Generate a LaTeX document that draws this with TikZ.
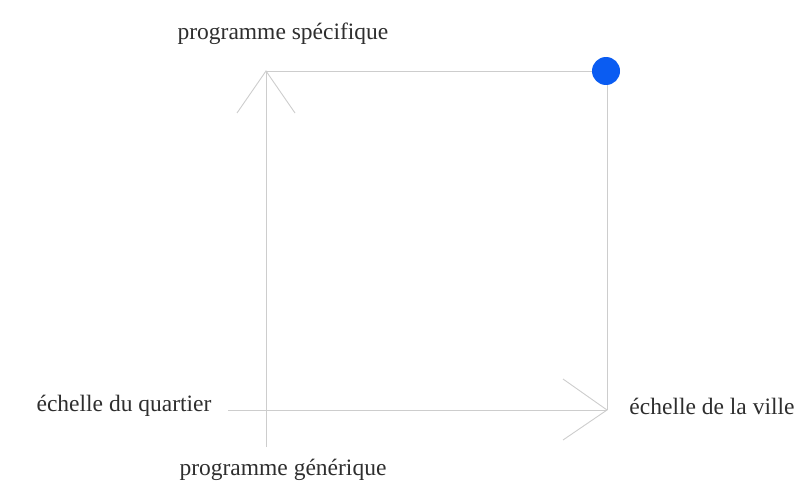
\documentclass[tikz,border=0pt]{standalone}
\usepackage{fontspec}
\setmainfont{Liberation Serif}
\definecolor{axisgray}{HTML}{CDCDCD}
\definecolor{textgray}{HTML}{2E2E2E}
\definecolor{dotblue}{HTML}{0A5CF2}
\begin{document}
\begin{tikzpicture}[x=1pt,y=-1pt,
  axis/.style={draw=axisgray,line width=0.9pt},
  lbl/.style={text=textgray,font=\fontsize{23.5}{26}\selectfont,inner sep=0pt}]
\useasboundingbox (0,0) rectangle (805,495);
\coordinate (vb) at (266,447);
\coordinate (vt) at (266,71);
\coordinate (hl) at (228,410);
\coordinate (hr) at (607,410);
\coordinate (tr) at (607,71);
\coordinate (vwl) at (237,113);
\coordinate (vwr) at (295,113);
\coordinate (hwt) at (563,379);
\coordinate (hwb) at (563,440);
\draw[axis] (vb) -- (vt);
\draw[axis] (hl) -- (hr);
\draw[axis] (vt) -- (tr) -- (hr);
\draw[axis] (vwl) -- (vt) -- (vwr);
\draw[axis] (hwt) -- (hr) -- (hwb);
\node[circle,fill=dotblue,minimum size=28pt,inner sep=0pt] (dot) at (606,71) {};
\node[lbl] (top) at (283,34) {programme spécifique};
\node[lbl] (bot) at (283,470) {programme générique};
\node[lbl] (left) at (124,406) {échelle du quartier};
\node[lbl] (right) at (712,406) {échelle de la ville};
\end{tikzpicture}
\end{document}
